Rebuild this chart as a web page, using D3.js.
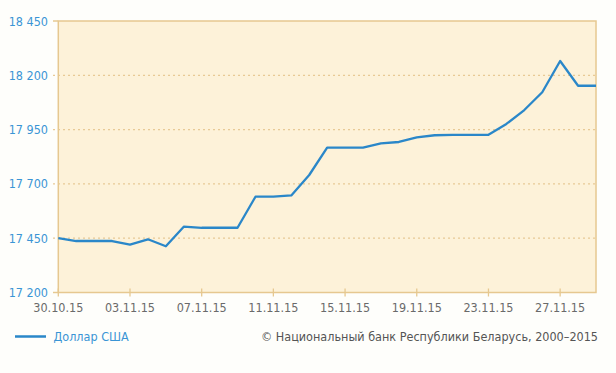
<!DOCTYPE html>
<html><head><meta charset="utf-8">
<script src="https://cdn.jsdelivr.net/npm/d3@7"></script>
<style>
html,body{margin:0;padding:0;background:#fefefb;}
svg{display:block;font-family:"DejaVu Sans Condensed","DejaVu Sans",sans-serif;font-stretch:condensed;}
</style></head>
<body><svg id="c" width="616" height="373"></svg>
<script>
const dates = ["30.10.15","31.10.15","01.11.15","02.11.15","03.11.15","04.11.15","05.11.15","06.11.15","07.11.15","08.11.15","09.11.15","10.11.15","11.11.15","12.11.15","13.11.15","14.11.15","15.11.15","16.11.15","17.11.15","18.11.15","19.11.15","20.11.15","21.11.15","22.11.15","23.11.15","24.11.15","25.11.15","26.11.15","27.11.15","28.11.15","29.11.15"];
const usd = [17450,17437,17437,17437,17420,17445,17413,17503,17498,17498,17498,17641,17641,17647,17741,17867,17867,17867,17887,17893,17914,17924,17926,17926,17926,17976,18040,18122,18266,18152,18152];
const yTicks = [17200,17450,17700,17950,18200,18450];
const xTickLabels = ["30.10.15","03.11.15","07.11.15","11.11.15","15.11.15","19.11.15","23.11.15","27.11.15"];
const seriesName = "Доллар США";
const copyright = "© Национальный банк Республики Беларусь, 2000–2015";

const svg = d3.select("#c");
const L = 58.3, R = 596, T = 21, B = 292.5;
const x = d3.scalePoint().domain(dates).range([L, R]);
const y = d3.scaleLinear().domain([17200, 18450]).range([B, T]);

const tan = "#e6c890";
svg.append("rect").attr("x", L).attr("y", T).attr("width", R - L).attr("height", B - T)
  .attr("fill", "#fdf2d9");

// gridlines
svg.append("g").selectAll("line").data(yTicks.slice(1, -1)).join("line")
  .attr("x1", 53).attr("x2", R).attr("y1", d => y(d)).attr("y2", d => y(d))
  .attr("stroke", "#e8c995").attr("stroke-width", 1.2).attr("stroke-dasharray", "2,3");

// border
svg.append("rect").attr("x", L).attr("y", T).attr("width", R - L).attr("height", B - T)
  .attr("fill", "none").attr("stroke", tan).attr("stroke-width", 1.5);
[yTicks[0], yTicks[yTicks.length - 1]].forEach(v => {
  svg.append("line").attr("x1", 53).attr("x2", L).attr("y1", y(v)).attr("y2", y(v))
    .attr("stroke", tan).attr("stroke-width", 1.5);
});

// x ticks
svg.append("g").selectAll("line").data(xTickLabels).join("line")
  .attr("x1", d => x(d)).attr("x2", d => x(d)).attr("y1", B - 4).attr("y2", B + 4)
  .attr("stroke", tan).attr("stroke-width", 1.3);

// y labels
svg.append("g").selectAll("text").data(yTicks).join("text")
  .attr("x", 48).attr("y", d => y(d)).attr("dy", "0.36em")
  .attr("text-anchor", "end").attr("fill", "#3a95d5").attr("font-size", 12.5)
  .text(d => d3.format(",")(d).replace(",", " "));

// x labels
svg.append("g").selectAll("text").data(xTickLabels).join("text")
  .attr("x", d => x(d)).attr("y", 311.5)
  .attr("text-anchor", "middle").attr("fill", "#6a6a6a").attr("font-size", 12.5)
  .text(d => d);

// line
const line = d3.line().x((d, i) => x(dates[i])).y(d => y(d));
svg.append("path").datum(usd).attr("d", line)
  .attr("fill", "none").attr("stroke", "#2a87c9").attr("stroke-width", 2.3)
  .attr("stroke-linejoin", "round");

// legend
svg.append("line").attr("x1", 15).attr("x2", 46).attr("y1", 336.5).attr("y2", 336.5)
  .attr("stroke", "#2a87c9").attr("stroke-width", 2.5);
svg.append("text").attr("x", 53.5).attr("y", 341).attr("fill", "#3a95d5")
  .attr("font-size", 12.5).text(seriesName);
svg.append("text").attr("x", 598).attr("y", 341).attr("text-anchor", "end")
  .attr("fill", "#555").attr("font-size", 12.5).text(copyright);
</script></body></html>
